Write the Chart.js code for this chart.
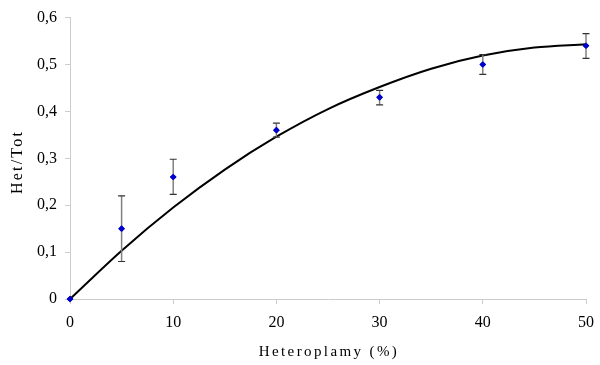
<!DOCTYPE html>
<html>
<head>
<meta charset="utf-8">
<script src="https://cdn.jsdelivr.net/npm/chart.js@4"></script>
<style>
  html, body { margin: 0; padding: 0; background: #fff; }
  #wrap { width: 600px; height: 365px; }
</style>
</head>
<body>
<div id="wrap"><canvas id="myChart" width="600" height="365"></canvas></div>
<script>
// Measured points (x = heteroplamy %, y = Het/Tot)
const xValues = [0, 5, 10, 20, 30, 40, 50];
const yValues = [0, 0.15, 0.26, 0.36, 0.43, 0.50, 0.54];
// Error bar ends
const errLow  = [0, 0.08, 0.223, 0.345, 0.414, 0.479, 0.513];
const errHigh = [0, 0.22, 0.298, 0.375, 0.445, 0.521, 0.566];
// Trend curve
const curveX = [0, 5, 10, 15, 20, 25, 30, 35, 40, 45, 50];
const curveY = [0, 0.103, 0.195, 0.276, 0.346, 0.405, 0.452, 0.491, 0.519, 0.536, 0.543];

const xTitle = 'Heteroplamy (%)';
const yTitle = 'Het/Tot';

const serif = "'Liberation Serif', 'Times New Roman', serif";
const tickFont = { family: serif, size: 16 };

// Plugin: error bars + letter-spaced axis titles
const errorBars = {
    id: 'errorBars',
    afterDatasetsDraw(chart) {
        const ctx = chart.ctx;
        const xs = chart.scales.x;
        const ys = chart.scales.y;
        ctx.save();
        xValues.forEach((x, i) => {
            if (errHigh[i] === errLow[i]) return;
            const px = xs.getPixelForValue(x);
            const top = ys.getPixelForValue(errHigh[i]);
            const bot = ys.getPixelForValue(errLow[i]);
            ctx.strokeStyle = '#808080';
            ctx.lineWidth = 1.5;
            ctx.beginPath();
            ctx.moveTo(px, top);
            ctx.lineTo(px, bot);
            ctx.stroke();
            ctx.strokeStyle = '#333';
            ctx.lineWidth = 1.2;
            ctx.beginPath();
            ctx.moveTo(px - 3.5, top);
            ctx.lineTo(px + 3.5, top);
            ctx.moveTo(px - 3.5, bot);
            ctx.lineTo(px + 3.5, bot);
            ctx.stroke();
        });
        ctx.restore();
        // points go on top of the bars
        const meta = chart.getDatasetMeta(1);
        meta.data.forEach(el => el.draw(ctx));
    },
    afterDraw(chart) {
        const ctx = chart.ctx;
        const area = chart.chartArea;
        ctx.save();
        ctx.fillStyle = '#000';
        ctx.textAlign = 'center';
        ctx.textBaseline = 'middle';
        ctx.font = '15px ' + serif;
        ctx.letterSpacing = '2.4px';
        ctx.fillText(xTitle, (area.left + area.right) / 2 + 1, 352);
        ctx.font = '16px ' + serif;
        ctx.letterSpacing = '2.2px';
        ctx.translate(18, 162);
        ctx.rotate(-Math.PI / 2);
        ctx.fillText(yTitle, 0, 0);
        ctx.restore();
    }
};

const config = {
    type: 'scatter',
    data: {
        datasets: [{
            label: 'trend',
            data: curveX.map((x, i) => ({ x: x, y: curveY[i] })),
            showLine: true,
            borderColor: '#000',
            borderWidth: 2,
            pointRadius: 0,
            cubicInterpolationMode: 'monotone',
            clip: false
        }, {
            label: 'Het/Tot',
            data: xValues.map((x, i) => ({ x: x, y: yValues[i] })),
            showLine: false,
            pointStyle: 'rectRot',
            pointRadius: 3.3,
            backgroundColor: '#0000cc',
            borderColor: '#0000cc',
            borderWidth: 0,
            clip: false
        }]
    },
    options: {
        responsive: false,
        animation: false,
        layout: { padding: { top: 17, right: 14, left: 0, bottom: 0 } },
        plugins: {
            legend: { display: false },
            tooltip: { enabled: false }
        },
        scales: {
            x: {
                type: 'linear',
                min: 0, max: 50,
                ticks: { stepSize: 10, color: '#000', font: tickFont, padding: 9 },
                grid: { drawOnChartArea: false, drawTicks: true, tickLength: 5, color: '#ccc' },
                border: { color: '#ccc' },
                afterFit(scale) { scale.height = 66; scale.paddingRight = 0; }
            },
            y: {
                min: 0, max: 0.6,
                ticks: {
                    stepSize: 0.1, color: '#000', font: tickFont, padding: 8,
                    callback: v => v === 0 ? '0' : v.toFixed(1).replace('.', ',')
                },
                grid: { drawOnChartArea: false, drawTicks: true, tickLength: 5, color: '#ccc' },
                border: { color: '#ccc' },
                afterFit(scale) { scale.width = 70; }
            }
        }
    },
    plugins: [errorBars]
};

new Chart(document.getElementById('myChart'), config);
</script>
</body>
</html>
